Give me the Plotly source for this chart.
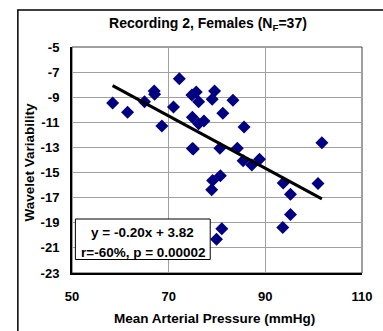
import numpy as np
import plotly.graph_objects as go

# Data
map_mmhg = [58.4, 61.5, 65.0, 67.0, 67.1, 72.2, 71.0, 68.6, 74.8, 75.7,
            76.2, 79.5, 79.0, 83.3, 81.2, 74.9, 76.2, 77.3, 74.9, 75.1,
            80.6, 84.2, 85.6, 85.4, 87.2, 88.8, 101.7, 79.1, 80.7, 78.9,
            93.7, 95.2, 100.9, 95.2, 93.6, 81.0, 79.9]
wavelet_var = [-9.47, -10.19, -9.36, -8.51, -8.77, -7.52, -9.77, -11.30, -8.83, -8.59,
               -9.37, -8.50, -9.16, -9.24, -10.27, -10.59, -11.11, -10.89, -13.08, -13.12,
               -13.07, -13.06, -11.38, -14.06, -14.39, -13.95, -12.63, -15.64, -15.26, -16.36,
               -15.84, -16.72, -15.88, -18.34, -19.37, -19.47, -20.31]
x_ticks = [50, 70, 90, 110]
y_ticks = [-23, -21, -19, -17, -15, -13, -11, -9, -7, -5]
title_text = "Recording 2, Females (N<sub>F</sub>=37)"
eq_lines = ["y = -0.20x + 3.82", "r=-60%, p = 0.00002"]

xs = np.array(map_mmhg)
ys = np.array(wavelet_var)
slope, intercept = np.polyfit(xs, ys, 1)
fit_x = np.array([xs.min(), xs.max()])
fit_y = slope * fit_x + intercept

FONT = "Liberation Sans, Arial, sans-serif"

fig = go.Figure()
fig.add_trace(go.Scatter(
    x=map_mmhg, y=wavelet_var, mode="markers",
    marker=dict(symbol="diamond", size=10, color="#000080", line=dict(width=0)),
    showlegend=False, hoverinfo="skip"))
fig.add_trace(go.Scatter(
    x=fit_x, y=fit_y, mode="lines",
    line=dict(color="black", width=3),
    showlegend=False, hoverinfo="skip"))

fig.update_layout(
    width=383, height=331,
    margin=dict(l=72, r=11, t=47, b=58),
    paper_bgcolor="white", plot_bgcolor="white",
    font=dict(family=FONT, color="black"),
    title=dict(text="<b>" + title_text + "</b>", x=0.543, xanchor="center",
               y=1 - 23 / 331, yanchor="middle",
               font=dict(size=14, family=FONT, color="black")),
    xaxis=dict(range=[50, 110], tickvals=x_ticks, ticktext=[str(v) for v in x_ticks],
               showgrid=True, gridcolor="#a0a0a0", gridwidth=1,
               showline=True, linecolor="black", linewidth=2,
               ticks="", ticklabelstandoff=10, zeroline=False,
               tickfont=dict(size=13, family=FONT, weight="bold", color="black")),
    yaxis=dict(range=[-23, -5], tickvals=y_ticks, ticktext=[str(v) for v in y_ticks],
               showgrid=True, gridcolor="#a0a0a0", gridwidth=1,
               showline=True, linecolor="black", linewidth=2,
               ticks="", ticklabelstandoff=8, zeroline=False,
               tickfont=dict(size=13, family=FONT, weight="bold", color="black")),
)

# Plot area outline (top/right thin dark gray)
fig.add_shape(type="rect", xref="paper", yref="paper", x0=0, x1=1, y0=0, y1=1,
              line=dict(color="#404040", width=1), layer="below")
# Outer chart border (extends past the image on the right and bottom)
fig.add_shape(type="rect", xref="paper", yref="paper",
              x0=(16 - 72) / 300, x1=1.1, y0=-0.4, y1=(273 - 10) / 226,
              line=dict(color="black", width=1.5))

# Equation box
fig.add_shape(type="rect", xref="paper", yref="paper",
              x0=(75.5 - 72) / 300, x1=(215 - 72) / 300,
              y0=(273 - 259.5) / 226, y1=(273 - 219) / 226,
              line=dict(color="black", width=1), fillcolor="white", layer="above")
fig.add_annotation(xref="paper", yref="paper", x=(145 - 72) / 300, y=(273 - 232) / 226,
                   text="<b>" + eq_lines[0] + "</b>", showarrow=False,
                   xanchor="center", yanchor="middle",
                   font=dict(size=13.5, family=FONT, color="black"))
fig.add_annotation(xref="paper", yref="paper", x=(145.5 - 72) / 300, y=(273 - 252) / 226,
                   text="<b>" + eq_lines[1] + "</b>", showarrow=False,
                   xanchor="center", yanchor="middle",
                   font=dict(size=13.5, family=FONT, color="black"))

# Axis titles
fig.add_annotation(xref="paper", yref="paper", x=(219.5 - 72) / 300, y=(273 - 318) / 226,
                   text="<b>Mean Arterial Pressure (mmHg)</b>", showarrow=False,
                   xanchor="center", yanchor="middle",
                   font=dict(size=13.5, family=FONT, color="black"))
fig.add_annotation(xref="paper", yref="paper", x=(28 - 72) / 300, y=(273 - 162) / 226,
                   text="<b>Wavelet Variability</b>", showarrow=False, textangle=-90,
                   xanchor="center", yanchor="middle",
                   font=dict(size=13.5, family=FONT, color="black"))

fig.write_html("out.html", config={"displayModeBar": False},
               post_script="document.body.style.margin='0';document.body.style.padding='0';")
